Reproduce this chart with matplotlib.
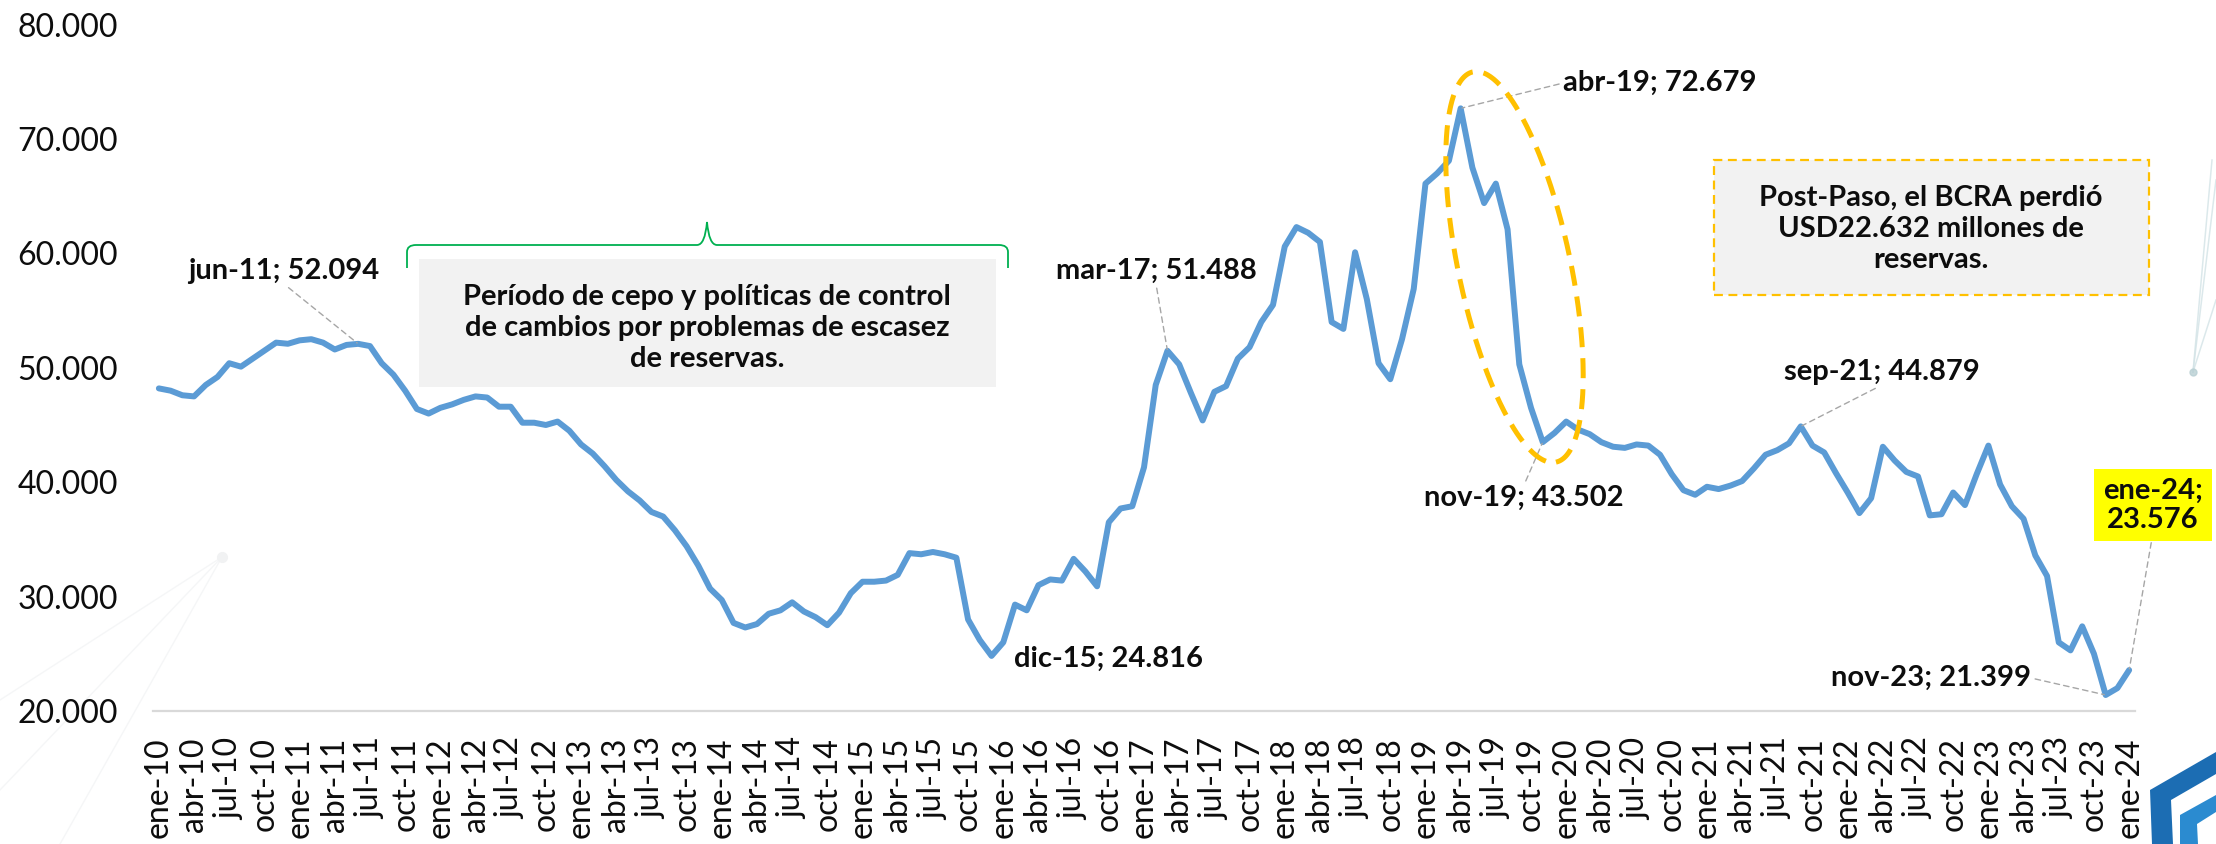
import matplotlib
matplotlib.use("Agg")
import matplotlib.pyplot as plt
import numpy as np
from matplotlib.patches import Rectangle, Polygon, PathPatch
from matplotlib.path import Path

plt.rcParams['font.family'] = ['Lato', 'DejaVu Sans']

# ---------------- data (reservas, millones de USD) ----------------
MESES = ["ene", "feb", "mar", "abr", "may", "jun", "jul", "ago", "sep", "oct", "nov", "dic"]
res_2010 = [48200, 48000, 47600, 47500, 48500, 49200, 50400, 50100, 50800, 51500, 52200, 52100]
res_2011 = [52400, 52500, 52200, 51600, 52000, 52094, 51900, 50400, 49400, 48000, 46400, 46000]
res_2012 = [46500, 46800, 47200, 47500, 47400, 46600, 46600, 45200, 45200, 45000, 45300, 44500]
res_2013 = [43300, 42500, 41400, 40200, 39200, 38400, 37400, 37000, 35800, 34400, 32700, 30700]
res_2014 = [29700, 27700, 27300, 27600, 28500, 28800, 29500, 28700, 28200, 27500, 28600, 30300]
res_2015 = [31300, 31300, 31400, 31900, 33800, 33700, 33900, 33700, 33400, 28000, 26200, 24816]
res_2016 = [26000, 29300, 28800, 31000, 31500, 31400, 33300, 32200, 30900, 36500, 37700, 37900]
res_2017 = [41300, 48500, 51488, 50300, 47800, 45400, 47900, 48400, 50800, 51800, 54000, 55500]
res_2018 = [60600, 62300, 61800, 61000, 54000, 53400, 60100, 56000, 50400, 49000, 52500, 56900]
res_2019 = [66100, 67000, 68100, 72679, 67500, 64400, 66100, 62100, 50300, 46500, 43502, 44300]
res_2020 = [45300, 44600, 44200, 43500, 43100, 43000, 43300, 43200, 42400, 40700, 39300, 38900]
res_2021 = [39600, 39400, 39700, 40100, 41200, 42400, 42800, 43400, 44879, 43200, 42600, 40800]
res_2022 = [39100, 37300, 38600, 43100, 41900, 40900, 40500, 37100, 37200, 39100, 38000, 40700]
res_2023 = [43200, 39800, 37900, 36800, 33600, 31800, 26000, 25300, 27400, 25000, 21399, 22000]
res_2024 = [23576]

reserves = (res_2010 + res_2011 + res_2012 + res_2013 + res_2014 + res_2015 + res_2016 +
            res_2017 + res_2018 + res_2019 + res_2020 + res_2021 + res_2022 + res_2023 + res_2024)
labels = [f"{MESES[i % 12]}-{10 + i // 12}" for i in range(len(reserves))]

y_ticks = [20000, 30000, 40000, 50000, 60000, 70000, 80000]

# annotated months: label, text centre (px, top-left origin), leader relpos
annotated = [
    ("jun-11", (284, 271), (0.5, 0.0)),
    ("dic-15", (1108, 659), None),
    ("mar-17", (1156, 271), (0.5, 0.0)),
    ("abr-19", (1660, 83), (0.0, 0.5)),
    ("nov-19", (1524, 498), (0.5, 1.0)),
    ("sep-21", (1882, 372), (0.5, 0.0)),
    ("nov-23", (1931, 678), (1.0, 0.5)),
]

box_text = "Período de cepo y políticas de control\nde cambios por problemas de escasez\nde reservas."
post_paso_text = "Post-Paso, el BCRA perdió\nUSD22.632 millones de\nreservas."


def fmt(v):
    return f"{int(round(v)):,}".replace(",", ".")


W, H = 2216, 844


def fp(xp, yp):
    """full-resolution pixel (top-left origin) -> figure fraction"""
    return (xp / W, 1 - yp / H)


fig = plt.figure(figsize=(W / 100, H / 100), dpi=100)
fig.patch.set_facecolor("white")

ax_l, ax_r, ax_t, ax_b = 153, 2135, 24.6, 711
ax = fig.add_axes([ax_l / W, 1 - ax_b / H, (ax_r - ax_l) / W, (ax_b - ax_t) / H])
ax.set_facecolor("none")

x = np.arange(len(reserves))
ax.plot(x, reserves, color="#5B9BD5", lw=4.3, solid_joinstyle="round", solid_capstyle="round", zorder=3)

ax.set_xlim(-0.5, len(reserves) - 0.5)
ax.set_ylim(20000, 80000)

ax.set_xticks(x[::3])
ax.set_xticklabels(labels[::3], rotation=90, fontsize=23, color="#0D0D0D")
ax.set_yticks(y_ticks)
ax.set_yticklabels([fmt(v) for v in y_ticks], fontsize=23, color="#0D0D0D")
ax.tick_params(axis="x", length=0, pad=19)
ax.tick_params(axis="y", length=0, pad=25)

for s in ("top", "right", "left"):
    ax.spines[s].set_visible(False)
ax.spines["bottom"].set_color("#D9D9D9")
ax.spines["bottom"].set_linewidth(1.6)

# ---------------- annotations ----------------
leader = dict(arrowstyle="-", color="#A6A6A6", lw=1.0, ls=(0, (4, 3)), shrinkA=1, shrinkB=1)
for lab, (tx, ty), relpos in annotated:
    i = labels.index(lab)
    txt = f"{lab}; {fmt(reserves[i])}"
    kw = {}
    if relpos is not None:
        kw["arrowprops"] = dict(leader, relpos=relpos)
    ax.annotate(txt, xy=(i, reserves[i]), xycoords="data",
                xytext=fp(tx, ty), textcoords="figure fraction",
                ha="center", va="center", fontsize=21, fontweight="bold",
                color="#0D0D0D", zorder=5, **kw)

# ene-24 with yellow box
i_last = len(reserves) - 1
ax.annotate(f"{labels[i_last]};\n{fmt(reserves[i_last])}", xy=(i_last, reserves[i_last]),
            xycoords="data", xytext=fp(2153, 505), textcoords="figure fraction",
            ha="center", va="center", fontsize=21, fontweight="bold", color="#0D0D0D",
            linespacing=1.15, multialignment="center",
            bbox=dict(boxstyle="square,pad=0.3", fc="#FFFF00", ec="none"),
            arrowprops=dict(leader, relpos=(0.5, 0.0)), zorder=6)

# ---------------- gray cepo box + green brace ----------------
x0, y0 = fp(419, 387)
fig.add_artist(Rectangle((x0, y0), (996 - 419) / W, (387 - 259) / H,
                         transform=fig.transFigure, fc="#F2F2F2", ec="none", zorder=1))
fig.text(*fp(707, 328), box_text, ha="center", va="center", fontsize=21,
         fontweight="bold", color="#0D0D0D", linespacing=1.25, zorder=2)

brace_pts = [(407, 268), (407, 252), (407, 245), (416, 245), (697, 245), (705, 245), (707, 222),
             (709, 245), (717, 245), (999, 245), (1008, 245), (1008, 252), (1008, 268)]
codes = [Path.MOVETO, Path.LINETO, Path.CURVE3, Path.CURVE3, Path.LINETO, Path.CURVE3, Path.CURVE3,
         Path.CURVE3, Path.CURVE3, Path.LINETO, Path.CURVE3, Path.CURVE3, Path.LINETO]
brace = Path([fp(*p) for p in brace_pts], codes)
fig.add_artist(PathPatch(brace, transform=fig.transFigure, fc="none", ec="#00B050", lw=1.3, zorder=2))

# ---------------- post-paso box ----------------
x0, y0 = fp(1714, 295)
fig.add_artist(Rectangle((x0, y0), (2149 - 1714) / W, (295 - 160) / H,
                         transform=fig.transFigure, fc="#F2F2F2", ec="#FFC000", lw=1.6,
                         ls=(0, (4, 2.5)), zorder=1))
fig.text(*fp(1931, 229), post_paso_text, ha="center", va="center", fontsize=21,
         fontweight="bold", color="#0D0D0D", linespacing=1.25, zorder=2)

# ---------------- dashed orange ellipse ----------------
cx, cy, a, b, th = 1514.5, 267, 199.5, 56, np.deg2rad(12)
t = np.linspace(0, 2 * np.pi, 400)
u = np.array([np.sin(th), np.cos(th)])
v = np.array([np.cos(th), -np.sin(th)])
ex = cx + a * np.cos(t) * u[0] + b * np.sin(t) * v[0]
ey = cy + a * np.cos(t) * u[1] + b * np.sin(t) * v[1]
fig.add_artist(plt.Line2D(ex / W, 1 - ey / H, transform=fig.transFigure, color="#FFC000",
                          lw=3.6, ls=(0, (4, 2.2)), zorder=4))

# ---------------- decorative background bits ----------------
for (x1, y1), (x2, y2) in [((2193, 372), (2216, 180)), ((2193, 372), (2216, 300)),
                           ((2193, 372), (2212, 160))]:
    fig.add_artist(plt.Line2D([x1 / W, x2 / W], [1 - y1 / H, 1 - y2 / H], transform=fig.transFigure,
                              color="#D3E3E6", lw=1.1, alpha=0.8, zorder=0))
fig.add_artist(plt.Line2D([2193 / W], [1 - 372 / H], transform=fig.transFigure, marker="o",
                          ms=5, color="#B8CFD3", alpha=0.8, zorder=0))
for (x1, y1), (x2, y2) in [((222, 557), (0, 700)), ((222, 557), (60, 844)), ((222, 557), (0, 790))]:
    fig.add_artist(plt.Line2D([x1 / W, x2 / W], [1 - y1 / H, 1 - y2 / H], transform=fig.transFigure,
                              color="#F5F6F7", lw=1.0, zorder=0))
fig.add_artist(plt.Line2D([222 / W], [1 - 557 / H], transform=fig.transFigure, marker="o",
                          ms=7, color="#F1F2F3", zorder=0))

logo_outer = [(2150, 790), (2216, 752), (2216, 774), (2171, 800), (2173, 844), (2152, 844)]
logo_inner = [(2180, 815), (2216, 795), (2216, 812), (2197, 824), (2198, 844), (2180, 844)]
fig.add_artist(Polygon([fp(*p) for p in logo_outer], closed=True, transform=fig.transFigure,
                       fc="#1C6DB3", ec="none", zorder=1))
fig.add_artist(Polygon([fp(*p) for p in logo_inner], closed=True, transform=fig.transFigure,
                       fc="#2B8BD0", ec="none", zorder=1))

fig.savefig("out.png", dpi=100)
